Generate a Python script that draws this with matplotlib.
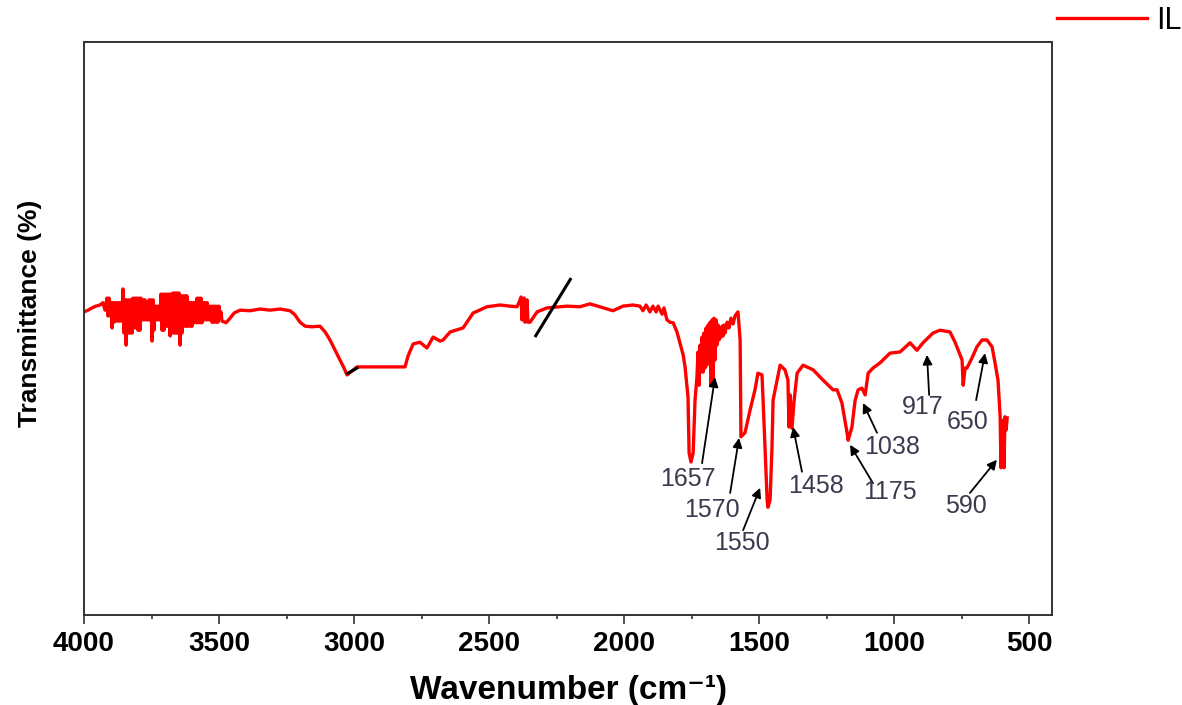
import matplotlib
matplotlib.use("Agg")
import matplotlib.pyplot as plt
from matplotlib.ticker import MultipleLocator

plt.rcParams['font.family'] = ['Liberation Sans', 'DejaVu Sans']

# FTIR spectrum of IL (wavenumber in cm^-1, transmittance in arbitrary %)
wavenumber = [
    4000, 3985, 3970, 3956, 3941, 3930, 3922,
    3915, 3911, 3907, 3904, 3900, 3896, 3893, 3889, 3885, 3881, 3878, 3874, 3870, 3867, 3863, 3859,
    3856, 3852, 3848, 3844, 3841, 3837, 3833, 3830, 3826, 3822, 3819, 3815, 3811, 3807, 3804, 3800,
    3796, 3793, 3789, 3785, 3781, 3778, 3774, 3770, 3767, 3763, 3759, 3756, 3752, 3748, 3744, 3741,
    3737, 3733, 3730, 3726, 3722, 3719, 3715, 3711, 3707, 3704, 3700, 3696, 3693, 3689, 3685, 3681,
    3678, 3674, 3670, 3667, 3663, 3659, 3656, 3652, 3648, 3644, 3641, 3637, 3633, 3630, 3626, 3622,
    3619, 3615, 3611, 3607, 3604, 3600, 3596, 3593, 3589, 3585, 3581, 3578, 3574, 3570, 3567, 3563,
    3559, 3556, 3552, 3548, 3544, 3541, 3537, 3533, 3530, 3526, 3522, 3519, 3515, 3511, 3507, 3504,
    3500, 3496, 3493, 3489,
    3474, 3459, 3444, 3422,
    3385, 3348, 3311, 3274, 3237, 3219, 3200, 3181, 3156, 3126, 3107, 3089, 3070, 3052, 3037, 3026,
    3007, 2989, 2878, 2811, 2800, 2781, 2756, 2730, 2707, 2681, 2670, 2644, 2596, 2559, 2507, 2459,
    2422, 2396, 2385, 2381, 2378, 2370, 2367, 2359, 2356, 2348, 2322, 2285, 2211, 2163, 2126, 2063,
    2041, 2004, 1967, 1941, 1930, 1918, 1904, 1893, 1881, 1874, 1859, 1852, 1841, 1830, 1818, 1804,
    1793, 1781, 1774, 1763, 1759, 1752, 1744, 1737,
    1730, 1726, 1722, 1718, 1715, 1711, 1707, 1704, 1700, 1696, 1693, 1689, 1685, 1681, 1678, 1674,
    1670, 1667, 1663, 1659, 1656, 1652, 1648, 1644, 1641, 1637, 1633, 1630, 1626, 1618, 1611, 1604,
    1596, 1589, 1581, 1578, 1574, 1570, 1567, 1552, 1533, 1515, 1504, 1489,
    1485, 1478, 1470, 1467, 1459, 1452, 1448, 1433, 1422, 1404, 1393, 1389, 1385, 1378, 1370, 1359,
    1337, 1300, 1263, 1226, 1211, 1193, 1174, 1170, 1156, 1144, 1133, 1119, 1107, 1096, 1078, 1052,
    1015, 978, 941, 915, 893, 856, 830, 793, 774, 748, 744, 737, 730, 711, 693, 674,
    656, 637, 626, 615, 607, 604, 596, 593, 589, 585, 581,
]
transmittance = [
    52.9, 53.2, 53.6, 53.9, 54.1, 54.5, 53.2,
    55.3, 52.2, 55.3, 52.2, 54.5, 50.1, 54.5, 51.1, 54.5, 51.3, 54.5, 51.3, 54.5, 51.3, 54.5, 51.3,
    56.9, 49.2, 55.0, 47.1, 55.0, 49.2, 55.0, 49.2, 55.0, 49.2, 55.3, 50.1, 55.3, 50.1, 55.3, 49.7,
    55.3, 49.7, 55.3, 51.5, 55.0, 51.5, 55.0, 51.5, 54.5, 51.5, 55.0, 51.5, 55.0, 47.8, 55.0, 49.7,
    53.9, 51.5, 53.9, 51.5, 53.9, 51.5, 56.0, 49.7, 56.0, 49.7, 56.0, 50.4, 56.0, 50.4, 56.0, 48.7,
    56.0, 49.2, 56.2, 49.2, 56.2, 49.2, 56.2, 49.2, 56.2, 47.1, 55.7, 49.2, 55.7, 50.4, 55.7, 50.4,
    55.7, 50.4, 54.5, 50.4, 54.5, 50.4, 54.5, 51.0, 54.5, 51.0, 55.3, 51.0, 55.3, 51.0, 55.3, 51.0,
    54.5, 51.5, 54.5, 51.5, 54.5, 51.5, 53.9, 51.5, 53.9, 51.1, 53.9, 51.1, 53.9, 51.1, 53.9, 51.1,
    53.9, 51.8, 52.9, 51.3,
    51.0, 51.8, 52.7, 53.2,
    53.1, 53.4, 53.2, 53.4, 53.1, 52.4, 51.1, 50.4, 50.3, 50.4, 49.4, 48.0, 46.2, 44.5, 43.1, 41.9,
    42.6, 43.3, 43.3, 43.3, 45.2, 47.3, 47.6, 46.6, 48.5, 47.8, 48.0, 49.4, 50.1, 52.7, 53.8, 54.1,
    53.9, 53.8, 55.0, 55.5, 51.5, 55.3, 51.1, 55.0, 51.1, 51.1, 52.9, 53.6, 53.9, 53.8, 54.3, 53.4,
    53.1, 53.9, 54.1, 53.9, 53.1, 54.1, 52.9, 53.9, 52.9, 53.9, 52.5, 53.6, 51.5, 51.1, 51.0, 49.4,
    47.5, 45.4, 43.3, 38.0, 28.3, 26.7, 28.3, 37.5,
    41.5, 45.9, 40.1, 47.1, 42.4, 48.5, 42.4, 49.2, 43.1, 50.1, 43.6, 50.6, 44.5, 51.1, 40.1, 51.5,
    40.7, 51.8, 44.5, 51.5, 47.1, 50.6, 48.0, 49.7, 48.5, 50.4, 48.7, 50.6, 49.2, 51.1, 50.1, 51.8,
    50.8, 52.2, 52.7, 52.9, 50.4, 48.0, 31.1, 31.8, 35.8, 39.3, 42.2, 41.9,
    37.5, 29.3, 20.1, 18.8, 20.1, 29.3, 37.5, 41.0, 43.6, 42.8, 41.0, 32.8, 38.4, 32.6, 37.5, 42.2,
    43.6, 42.8, 41.0, 39.3, 39.3, 37.0, 31.8, 30.5, 32.8, 37.5, 39.3, 39.6, 38.4, 42.2, 43.1, 44.0,
    45.7, 45.9, 47.5, 46.2, 47.5, 49.2, 49.7, 49.4, 47.6, 44.5, 40.1, 43.1, 43.1, 44.9, 46.8, 48.0,
    48.0, 46.8, 44.0, 41.0, 34.6, 25.7, 34.0, 25.7, 34.6, 32.3, 34.4,
]

# Peak annotations: label, label position, arrow tail, arrow tip
peak_labels = ["1657", "1570", "1550", "1458", "1175", "1038", "917", "650", "590"]
label_pos = [(1763, 23.7), (1674, 18.3), (1563, 12.6), (1289, 22.5), (1015, 21.5),
             (1007, 29.3), (893, 36.3), (726, 33.7), (733, 19.0)]
arrow_tail = [(1711, 26.5), (1607, 21.3), (1559, 14.8), (1341, 25.0), (1078, 23.0),
              (1063, 31.8), (870, 38.4), (696, 37.5), (719, 21.3)]
arrow_tip = [(1663, 41.5), (1574, 30.9), (1496, 22.2), (1374, 32.8), (1163, 29.7),
             (1115, 37.0), (878, 45.4), (663, 45.7), (619, 27.1)]

xticks = [4000, 3500, 3000, 2500, 2000, 1500, 1000, 500]

fig = plt.figure(figsize=(11.82, 7.05), dpi=100)
ax = fig.add_axes([84 / 1182, 1 - 615 / 705, 968 / 1182, 573 / 705])

line, = ax.plot(wavenumber, transmittance, color='#ff0000', lw=2.4, label='IL')
# small dark segment near 3000 cm-1 and axis-break slash
ax.plot([3022, 2989], [42.2, 43.1], color='black', lw=2.2)
ax.plot([2330, 2196], [48.5, 58.8], color='black', lw=2.2, solid_capstyle='butt')

text_color = '#3b3b4f'
for lab, lp, tail, tip in zip(peak_labels, label_pos, arrow_tail, arrow_tip):
    ax.annotate('', xy=tip, xytext=tail,
                arrowprops=dict(arrowstyle='-|>', color='black', lw=1.3,
                                mutation_scale=14, shrinkA=0, shrinkB=0))
    ax.text(lp[0], lp[1], lab, ha='center', va='center', fontsize=18, color=text_color)

ax.set_xlim(4000, 415)
ax.set_ylim(0, 100)
ax.set_xticks(xticks)
ax.xaxis.set_minor_locator(MultipleLocator(250))
ax.set_yticks([])
ax.tick_params(axis='x', which='major', direction='out', length=6.5, width=1.1,
               pad=5, labelsize=20, colors='#222222')
ax.tick_params(axis='x', which='minor', direction='out', length=3, width=1.1, colors='#222222')
for lbl in ax.get_xticklabels():
    lbl.set_fontweight('bold')
    lbl.set_color('black')
for sp in ax.spines.values():
    sp.set_linewidth(1.4)
    sp.set_color('#333333')

ax.set_xlabel('Wavenumber (cm\u207b\u00b9)', fontsize=24, fontweight='bold', labelpad=13)
ax.set_ylabel('Transmittance (%)', fontsize=19, fontweight='bold')
ax.yaxis.set_label_coords(-0.0434, 0.527)

ax.legend(handles=[line], loc='center right', bbox_to_anchor=(1.0, 1 - 21 / 705),
          bbox_transform=fig.transFigure, frameon=False, fontsize=22,
          handlelength=2.95, handletextpad=0.3, borderpad=0, borderaxespad=0)

fig.savefig('out.png', dpi=100)
